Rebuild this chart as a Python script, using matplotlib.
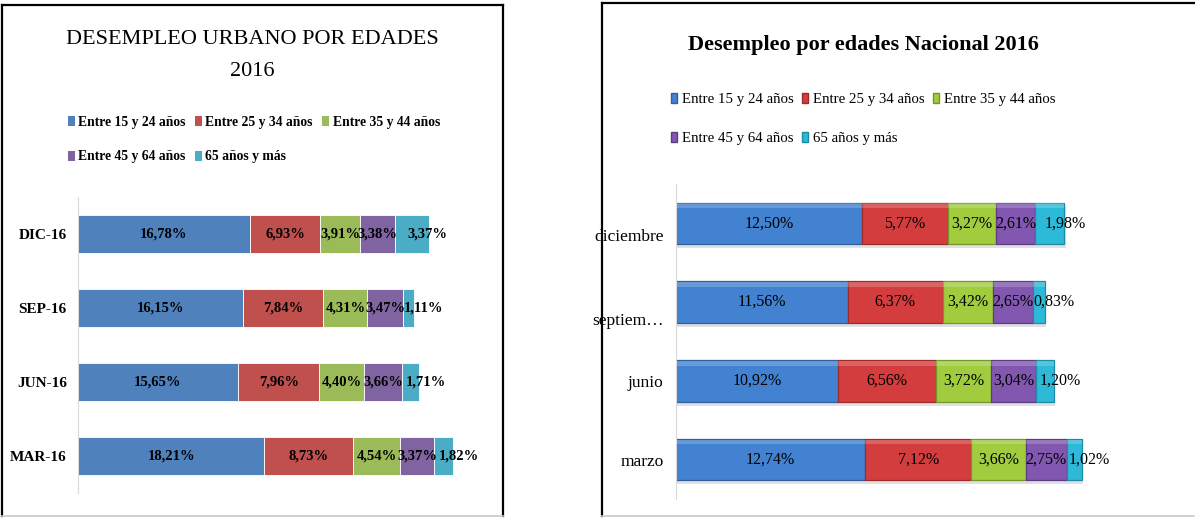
import matplotlib
matplotlib.use("Agg")
import matplotlib.pyplot as plt
import matplotlib.transforms as mtransforms
from matplotlib.lines import Line2D
from matplotlib.patches import Patch
import numpy as np

# ---------------- data ----------------
series_names = ["Entre 15 y 24 años", "Entre 25 y 34 años", "Entre 35 y 44 años",
                "Entre 45 y 64 años", "65 años y más"]

urban_cats = ["MAR-16", "JUN-16", "SEP-16", "DIC-16"]
urban_15_24 = [18.21, 15.65, 16.15, 16.78]
urban_25_34 = [8.73, 7.96, 7.84, 6.93]
urban_35_44 = [4.54, 4.40, 4.31, 3.91]
urban_45_64 = [3.37, 3.66, 3.47, 3.38]
urban_65 = [1.82, 1.71, 1.11, 3.37]

nat_cats = ["marzo", "junio", "septiem…", "diciembre"]
nat_15_24 = [12.74, 10.92, 11.56, 12.50]
nat_25_34 = [7.12, 6.56, 6.37, 5.77]
nat_35_44 = [3.66, 3.72, 3.42, 3.27]
nat_45_64 = [2.75, 3.04, 2.65, 2.61]
nat_65 = [1.02, 1.20, 0.83, 1.98]

left_title1 = "DESEMPLEO URBANO POR EDADES"
left_title2 = "2016"
right_title = "Desempleo por edades Nacional 2016"

# ---------------- style ----------------
SERIF = ["Liberation Serif", "DejaVu Serif"]
plt.rcParams["font.family"] = SERIF

left_colors = ["#4F81BD", "#C0504D", "#9BBB59", "#8064A2", "#4BACC6"]
right_colors = ["#4282D0", "#D43D3D", "#A0CC3E", "#8257B0", "#2DB9D8"]
right_edges = ["#2F5F9E", "#9E2A2A", "#74962A", "#5C3C82", "#1E8AA3"]

W, H = 1195, 518
fig = plt.figure(figsize=(W / 100, H / 100), dpi=100)
fig.patch.set_facecolor("white")


def fx(px):
    return px / W


def fy(py):
    return 1 - py / H


def fmt(v):
    return f"{v:.2f}".replace(".", ",") + "%"


# ---------------- frames ----------------
def frame(x0, x1, y0, y1, right=True):
    kw = dict(transform=fig.transFigure, color="black", lw=1.6)
    fig.add_artist(Line2D([fx(x0), fx(x1)], [fy(y0), fy(y0)], **kw))
    fig.add_artist(Line2D([fx(x0), fx(x0)], [fy(y0), fy(y1)], **kw))
    if right:
        fig.add_artist(Line2D([fx(x1), fx(x1)], [fy(y0), fy(y1)], **kw))
    fig.add_artist(Line2D([fx(x0), fx(x1)], [fy(y1), fy(y1)],
                          transform=fig.transFigure, color="#C8C8C8", lw=1.2))


frame(2, 503, 5, 516)
frame(602, 1194, 3, 516, right=False)

n_series = 5
last_shift_pt = 11  # labels of the last series sit to the right of their segment

# ---------------- left chart ----------------
axL = fig.add_axes([fx(78), fy(493), fx(487) - fx(78), fy(197) - fy(493)])
yL = np.arange(len(urban_cats))
urban_series = [urban_15_24, urban_25_34, urban_35_44, urban_45_64, urban_65]
left = np.zeros(len(urban_cats))
for si, (vals, col, name) in enumerate(zip(urban_series, left_colors, series_names)):
    vals = np.array(vals)
    axL.barh(yL, vals, left=left, height=0.51, color=col,
             edgecolor="white", linewidth=0.6, label=name)
    dx = last_shift_pt if si == n_series - 1 else 0
    for yi, (l, v) in enumerate(zip(left, vals)):
        axL.annotate(fmt(v), xy=(l + v / 2, yi), xytext=(dx, 0),
                     textcoords="offset points", ha="center", va="center",
                     fontsize=10.5, fontweight="bold", color="black")
    left += vals

axL.set_xlim(0, 40)
axL.set_ylim(-0.5, 3.5)
axL.set_yticks(yL)
axL.set_yticklabels(urban_cats, fontsize=11, fontweight="bold")
axL.tick_params(axis="y", length=0, pad=8)
axL.set_xticks([])
for s in ["top", "right", "bottom"]:
    axL.spines[s].set_visible(False)
axL.spines["left"].set_color("#D9D9D9")

fig.text(fx(252), fy(40), left_title1, ha="center", va="center", fontsize=16)
fig.text(fx(252), fy(72), left_title2, ha="center", va="center", fontsize=16)

order = [0, 3, 1, 4, 2]
fig.legend([Patch(facecolor=left_colors[i]) for i in order],
           [series_names[i] for i in order],
           ncol=3, loc="center", bbox_to_anchor=(fx(254), fy(139.5)),
           frameon=False, prop=dict(family=SERIF, size=9.8, weight="bold"),
           handlelength=0.5, handleheight=0.75, handletextpad=0.25,
           columnspacing=0.7, labelspacing=1.6, borderpad=0)

# ---------------- right chart ----------------
axR = fig.add_axes([fx(676), fy(499), fx(1122) - fx(676), fy(184) - fy(499)])
yR = np.arange(len(nat_cats))
nat_series = [nat_15_24, nat_25_34, nat_35_44, nat_45_64, nat_65]
left = np.zeros(len(nat_cats))
bh = 0.53
for si, (vals, col, ecol, name) in enumerate(zip(nat_series, right_colors, right_edges, series_names)):
    vals = np.array(vals)
    # soft shadow
    axR.barh(yR - 0.05, vals, left=left + 0.08, height=bh, color="#000000",
             alpha=0.12, linewidth=0, zorder=1)
    axR.barh(yR, vals, left=left, height=bh, color=col, edgecolor=ecol,
             linewidth=0.9, zorder=2)
    # bevel highlight on top
    axR.barh(yR + bh / 2 - 0.04, vals, left=left, height=0.06, color="white",
             alpha=0.2, linewidth=0, zorder=3)
    dx = last_shift_pt if si == n_series - 1 else 0
    for yi, (l, v) in enumerate(zip(left, vals)):
        axR.annotate(fmt(v), xy=(l + v / 2, yi), xytext=(dx, 0),
                     textcoords="offset points", ha="center", va="center",
                     fontsize=11.5, color="black", zorder=4)
    left += vals

axR.set_xlim(0, 30)
axR.set_ylim(-0.5, 3.5)
axR.set_yticks(yR)
axR.set_yticklabels(nat_cats, fontsize=12.5)
axR.tick_params(axis="y", length=0, pad=9)
axR.set_xticks([])
for s in ["top", "right", "bottom"]:
    axR.spines[s].set_visible(False)
axR.spines["left"].set_color("#D9D9D9")

offsets = {2: -17, 3: -12}
for i, lab in enumerate(axR.get_yticklabels()):
    if i in offsets:
        lab.set_transform(lab.get_transform() +
                          mtransforms.ScaledTranslation(0, offsets[i] / 100, fig.dpi_scale_trans))

fig.text(fx(863), fy(45), right_title, ha="center", va="center",
         fontsize=16, fontweight="bold")

fig.legend([Patch(facecolor=right_colors[i], edgecolor=right_edges[i]) for i in order],
           [series_names[i] for i in order],
           ncol=3, loc="center", bbox_to_anchor=(fx(863), fy(119)),
           frameon=False, prop=dict(family=SERIF, size=10.7),
           handlelength=0.45, handleheight=0.7, handletextpad=0.3,
           columnspacing=0.55, labelspacing=1.75, borderpad=0)

fig.savefig("out.png", dpi=100, facecolor="white")
